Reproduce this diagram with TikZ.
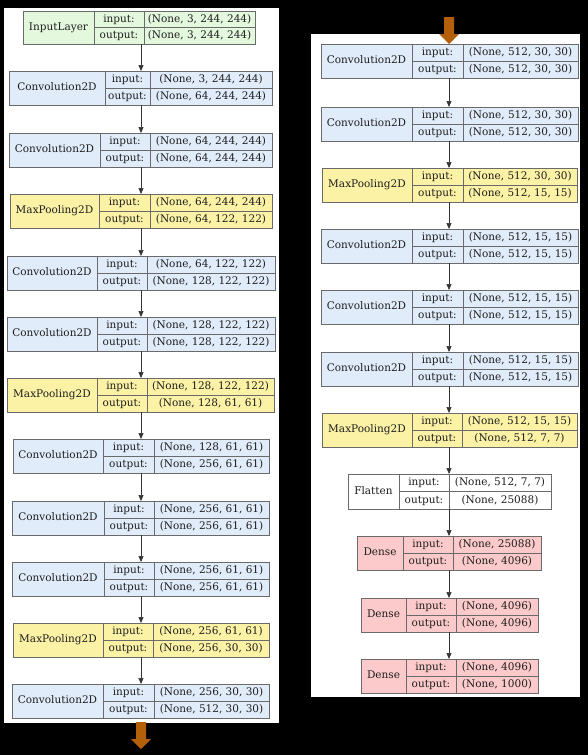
\documentclass[tikz,border=0pt]{standalone}
\usepackage{fontspec}
\setmainfont{DejaVu Serif}
\usetikzlibrary{arrows.meta}
\definecolor{cgreen}{HTML}{E3F8DD}
\definecolor{cblue}{HTML}{E1ECFA}
\definecolor{cyellow}{HTML}{FBF2A5}
\definecolor{cpink}{HTML}{FCCACA}
\definecolor{cwhite}{HTML}{FFFFFF}
\definecolor{boxline}{HTML}{6A6A6A}
\definecolor{txt}{HTML}{1E1E1E}
\definecolor{corange}{HTML}{B45F0A}
\tikzset{
  layerbox/.style={draw=boxline, line width=0.9pt, inner sep=0pt, outer sep=0pt},
  divline/.style={draw=boxline, line width=0.9pt},
  cell/.style={font=\fontsize{10.5}{10.5}\selectfont, text=txt, inner sep=0pt, text height=7.8pt, text depth=2.1pt},
  flow/.style={draw=black!80, line width=0.7pt, -{Triangle[length=6pt,width=5pt]}},
  contarrow/.style={fill=corange}
}
\newcommand\klayer[9]{%
  \def\kid{#1}\def\kst{#2}\def\kxa{#3}\def\kca{#4}\def\kcb{#5}\def\kxb{#6}\def\kyt{#7}\def\knm{#8}\def\kht{#9}\klayerB}
\newcommand\klayerB[2]{%
  \node[layerbox, fill=\kst, anchor=north west, minimum width={(\kxb-\kxa)*1pt}, minimum height={\kht*1pt}] (\kid) at (\kxa,\kyt) {};
  \draw[divline] (\kca,\kyt) -- ++(0,\kht);
  \draw[divline] (\kcb,\kyt) -- ++(0,\kht);
  \draw[divline] (\kca,{\kyt+\kht/2}) -- (\kxb,{\kyt+\kht/2});
  \node[cell] (\kid-nm) at ({(\kxa+\kca)/2},{\kyt+\kht/2}) {\knm};
  \node[cell] (\kid-il) at ({(\kca+\kcb)/2},{\kyt+\kht/4}) {input:};
  \node[cell] (\kid-ol) at ({(\kca+\kcb)/2},{\kyt+3*\kht/4}) {output:};
  \node[cell] (\kid-iv) at ({(\kcb+\kxb)/2},{\kyt+\kht/4}) {#1};
  \node[cell] (\kid-ov) at ({(\kcb+\kxb)/2},{\kyt+3*\kht/4}) {#2};
}
\begin{document}
\begin{tikzpicture}[x=1pt,y=-1pt]
\useasboundingbox (0,0) rectangle (588,755);
\fill[black] (0,0) rectangle (588,755);
\fill[white] (4,8) rectangle (279,723);
\fill[white] (311,34) rectangle (580,697);
\coordinate (axL) at (141,0);
\coordinate (axR) at (449,0);
% left column
\klayer{L1}{cgreen}{23}{94}{144}{255}{11}{InputLayer}{33}{(None, 3, 244, 244)}{(None, 3, 244, 244)}
\klayer{L2}{cblue}{9}{105}{150}{272}{71}{Convolution2D}{34}{(None, 3, 244, 244)}{(None, 64, 244, 244)}
\klayer{L3}{cblue}{9}{100}{150}{272}{133}{Convolution2D}{34}{(None, 64, 244, 244)}{(None, 64, 244, 244)}
\klayer{L4}{cyellow}{10}{99}{150}{272}{194}{MaxPooling2D}{34}{(None, 64, 244, 244)}{(None, 64, 122, 122)}
\klayer{L5}{cblue}{7}{97}{147}{275}{256}{Convolution2D}{34}{(None, 64, 122, 122)}{(None, 128, 122, 122)}
\klayer{L6}{cblue}{7}{97}{147}{275}{317}{Convolution2D}{34}{(None, 128, 122, 122)}{(None, 128, 122, 122)}
\klayer{L7}{cyellow}{7}{97}{147}{274}{378}{MaxPooling2D}{34}{(None, 128, 122, 122)}{(None, 128, 61, 61)}
\klayer{L8}{cblue}{13}{103}{154}{269}{439}{Convolution2D}{34}{(None, 128, 61, 61)}{(None, 256, 61, 61)}
\klayer{L9}{cblue}{12}{104}{154}{269}{501}{Convolution2D}{34}{(None, 256, 61, 61)}{(None, 256, 61, 61)}
\klayer{L10}{cblue}{12}{104}{154}{269}{562}{Convolution2D}{34}{(None, 256, 61, 61)}{(None, 256, 61, 61)}
\klayer{L11}{cyellow}{13}{103}{153}{269}{623}{MaxPooling2D}{34}{(None, 256, 61, 61)}{(None, 256, 30, 30)}
\klayer{L12}{cblue}{12}{103}{154}{269}{684}{Convolution2D}{34}{(None, 256, 30, 30)}{(None, 512, 30, 30)}
% right column
\klayer{R1}{cblue}{321}{412}{463}{578}{44}{Convolution2D}{34}{(None, 512, 30, 30)}{(None, 512, 30, 30)}
\klayer{R2}{cblue}{321}{412}{463}{578}{107}{Convolution2D}{34}{(None, 512, 30, 30)}{(None, 512, 30, 30)}
\klayer{R3}{cyellow}{322}{412}{463}{577}{168}{MaxPooling2D}{34}{(None, 512, 30, 30)}{(None, 512, 15, 15)}
\klayer{R4}{cblue}{321}{412}{463}{578}{229}{Convolution2D}{34}{(None, 512, 15, 15)}{(None, 512, 15, 15)}
\klayer{R5}{cblue}{321}{412}{463}{578}{290}{Convolution2D}{34}{(None, 512, 15, 15)}{(None, 512, 15, 15)}
\klayer{R6}{cblue}{321}{412}{463}{578}{352}{Convolution2D}{34}{(None, 512, 15, 15)}{(None, 512, 15, 15)}
\klayer{R7}{cyellow}{322}{412}{462}{577}{413}{MaxPooling2D}{34}{(None, 512, 15, 15)}{(None, 512, 7, 7)}
\klayer{R8}{cwhite}{348}{399}{449}{551}{474}{Flatten}{35}{(None, 512, 7, 7)}{(None, 25088)}
\klayer{R9}{cpink}{357}{403}{453}{541}{536}{Dense}{34}{(None, 25088)}{(None, 4096)}
\klayer{R10}{cpink}{361}{406}{456}{538}{598}{Dense}{34}{(None, 4096)}{(None, 4096)}
\klayer{R11}{cpink}{361}{406}{456}{538}{659}{Dense}{34}{(None, 4096)}{(None, 1000)}
% connectors
\foreach \a/\b in {L1/L2,L2/L3,L3/L4,L4/L5,L5/L6,L6/L7,L7/L8,L8/L9,L9/L10,L10/L11,L11/L12}
  \draw[flow] (\a.south -| axL) -- (\b.north -| axL);
\foreach \a/\b in {R1/R2,R2/R3,R3/R4,R4/R5,R5/R6,R6/R7,R7/R8,R8/R9,R9/R10,R10/R11}
  \draw[flow] (\a.south -| axR) -- (\b.north -| axR);
% continuation arrows
\fill[contarrow] (136,722) -- (146,722) -- (146,739) -- (151,739) -- (141,749) -- (131,739) -- (136,739) -- cycle;
\fill[contarrow] (444,17) -- (454,17) -- (454,34) -- (459,34) -- (449,44) -- (439,34) -- (444,34) -- cycle;
\end{tikzpicture}
\end{document}
